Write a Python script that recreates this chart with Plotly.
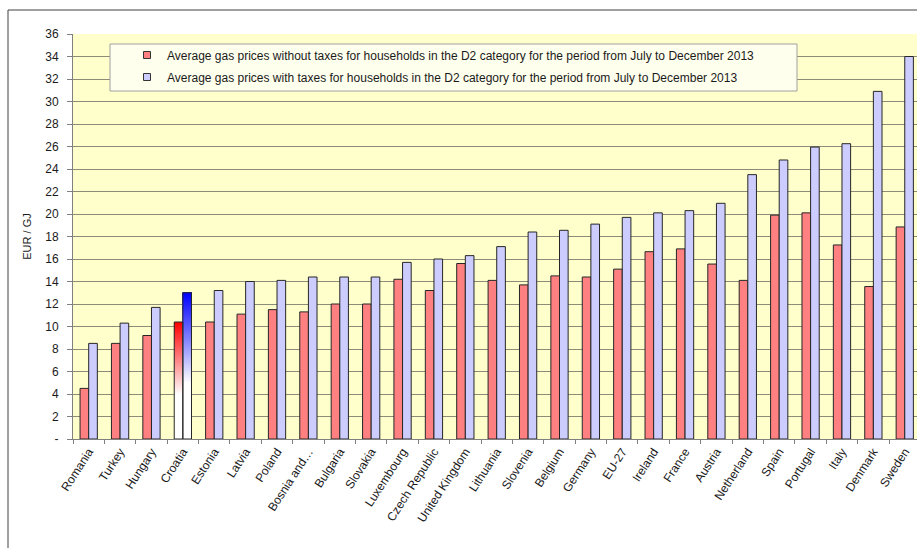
import plotly.graph_objects as go

# Average household gas prices (D2 band), July-December 2013, EUR/GJ
countries = [
    "Romania", "Turkey", "Hungary", "Croatia", "Estonia", "Latvia", "Poland",
    "Bosnia and…", "Bulgaria", "Slovakia", "Luxembourg", "Czech Republic",
    "United Kingdom", "Lithuania", "Slovenia", "Belgium", "Germany", "EU-27",
    "Ireland", "France", "Austria", "Netherland", "Spain", "Portugal", "Italy",
    "Denmark", "Sweden",
]
without_taxes = [
    4.5, 8.5, 9.2, 10.4, 10.4, 11.1, 11.5, 11.3, 12.0, 12.0, 14.2, 13.2, 15.6,
    14.1, 13.7, 14.5, 14.4, 15.1, 16.65, 16.9, 15.55, 14.1, 19.9, 20.1, 17.25,
    13.55, 18.85,
]
with_taxes = [
    8.5, 10.3, 11.7, 13.0, 13.2, 14.0, 14.1, 14.4, 14.4, 14.4, 15.7, 16.0, 16.3,
    17.1, 18.4, 18.55, 19.1, 19.7, 20.1, 20.3, 20.95, 23.5, 24.8, 25.95, 26.25,
    30.9, 34.0,
]
y_ticks = list(range(0, 37, 2))
y_tick_text = ["-"] + [str(v) for v in y_ticks[1:]]

name_without = "Average gas prices without taxes for households in the D2 category for the period from July to December 2013"
name_with = "Average gas prices with taxes for households in the D2 category for the period from July to December 2013"

highlight = "Croatia"
red_fill, blue_fill = "#ff8080", "#ccccff"
outline = "#262626"

# plot-area geometry in pixels (used to place the legend and frame)
W, H = 917, 548
ML, MR, MT, MB = 73, 0, 34, 109
PW, PH = W - ML - MR, H - MT - MB


def px_x(x):
    return (x - ML) / PW


def px_y(y):
    return 1 - (y - MT) / PH


def fade(rgb_top, frac):
    """Colour at relative height frac: white in the lower part, full colour at the top."""
    t = max(0.0, min(1.0, (frac - 0.38) / 0.62))
    return "rgb({},{},{})".format(*(round(255 + (c - 255) * t) for c in rgb_top))


def gradient_trace(value, rgb_top, group, steps=80):
    seg = value / steps
    bases = [i * seg for i in range(steps)]
    return go.Bar(
        x=[highlight] * steps,
        y=[value - b for b in bases],  # each slice runs to the top; later slices cover earlier
        base=bases,
        marker=dict(color=[fade(rgb_top, (i + 0.5) / steps) for i in range(steps)],
                    line=dict(width=0)),
        offsetgroup=group,
        showlegend=False,
        hoverinfo="skip",
    )


hi = countries.index(highlight)
fig = go.Figure()

# Highlighted country drawn with a vertical colour fade
fig.add_trace(gradient_trace(without_taxes[hi], (255, 0, 0), "a"))
fig.add_trace(gradient_trace(with_taxes[hi], (0, 0, 255), "b"))

fig.add_trace(go.Bar(
    x=countries, y=without_taxes, name=name_without, offsetgroup="a", showlegend=False,
    marker=dict(color=["rgba(0,0,0,0)" if c == highlight else red_fill for c in countries],
                line=dict(color=outline, width=1)),
))
fig.add_trace(go.Bar(
    x=countries, y=with_taxes, name=name_with, offsetgroup="b", showlegend=False,
    marker=dict(color=["rgba(0,0,0,0)" if c == highlight else blue_fill for c in countries],
                line=dict(color=outline, width=1)),
))

# legend entries with small square keys
for nm, col, lg in [(name_without, red_fill, "legend"), (name_with, blue_fill, "legend2")]:
    fig.add_trace(go.Scatter(
        x=[None], y=[None], mode="markers", name=nm, legend=lg,
        marker=dict(symbol="square", size=7, color=col, line=dict(color="#333333", width=1)),
    ))

font_family = "Liberation Sans, Arial, sans-serif"
legend_common = dict(
    xanchor="left", yanchor="middle", bgcolor="rgba(0,0,0,0)", borderwidth=0,
    font=dict(size=12, color="#1a1a1a"), itemwidth=30,
)

fig.update_layout(
    width=W, height=H,
    margin=dict(l=ML, r=MR, t=MT, b=MB),
    paper_bgcolor="white",
    plot_bgcolor="#ffffcc",
    barmode="group",
    bargap=0.45,
    bargroupgap=0,
    font=dict(family=font_family, size=12, color="#1a1a1a"),
    legend=dict(x=px_x(127), y=px_y(55), **legend_common),
    legend2=dict(x=px_x(127), y=px_y(77), **legend_common),
    xaxis=dict(
        categoryorder="array", categoryarray=countries,
        range=[-0.5, 26.39],
        tickangle=-57,
        ticks="outside", ticklen=4, tickcolor="#808080",
        tickson="boundaries",
        showline=True, linecolor="#808080", linewidth=1,
        showgrid=False,
        tickfont=dict(size=12, color="#1a1a1a"),
    ),
    yaxis=dict(
        range=[0, 36],
        tickvals=y_ticks, ticktext=y_tick_text,
        ticks="outside", ticklen=5, tickcolor="#808080",
        ticklabelstandoff=6,
        showline=True, linecolor="#808080", linewidth=1,
        showgrid=True, gridcolor="#8c8c78", gridwidth=1,
        zeroline=False,
        tickfont=dict(size=12, color="#1a1a1a"),
        title=dict(text="EUR / GJ", font=dict(size=11, color="#1a1a1a"), standoff=11),
    ),
    shapes=[
        # legend box, covering the gridlines behind it
        dict(type="rect", xref="paper", yref="paper", layer="above",
             x0=px_x(110), x1=px_x(797), y0=px_y(91), y1=px_y(44),
             fillcolor="#ffffee", line=dict(color="#a0a0a0", width=1)),
        # outer chart frame (left and top edges)
        dict(type="line", xref="paper", yref="paper",
             x0=px_x(8), x1=px_x(8), y0=px_y(10), y1=px_y(H),
             line=dict(color="#404040", width=1)),
        dict(type="line", xref="paper", yref="paper",
             x0=px_x(8), x1=1.0, y0=px_y(10), y1=px_y(10),
             line=dict(color="#404040", width=1)),
    ],
)

fig.write_html("out.html")
